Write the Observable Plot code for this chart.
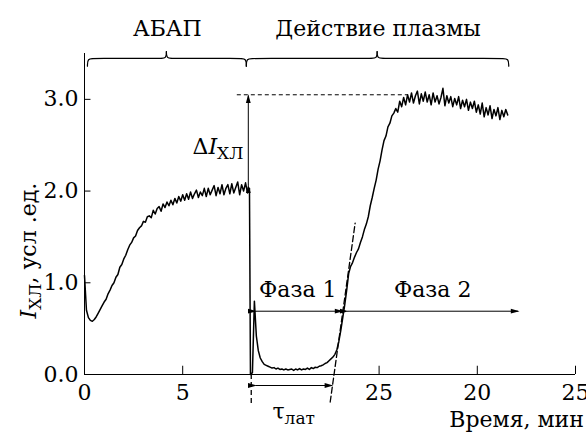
<!DOCTYPE html>
<html><head><meta charset="utf-8">
<script src="https://cdn.jsdelivr.net/npm/d3@7"></script>
<script src="https://cdn.jsdelivr.net/npm/@observablehq/plot@0.6"></script>
<style>html,body{margin:0;padding:0;background:#fff;} svg{display:block;}</style>
</head><body>
<script>
// ---- data ----
const sampleStep = 0.1; // min between samples
const abapStart = 0.0;
const abapValues = [
 1.08,0.70,0.62,0.59,0.58,0.60,0.63,0.67,0.71,0.75,
 0.79,0.82,0.88,0.92,0.97,1.00,1.06,1.09,1.17,1.20,
 1.26,1.30,1.36,1.41,1.44,1.49,1.51,1.57,1.60,1.62,
 1.67,1.66,1.72,1.73,1.71,1.79,1.75,1.81,1.83,1.78,
 1.86,1.82,1.88,1.84,1.90,1.85,1.92,1.87,1.94,1.89,
 1.96,1.90,1.97,1.91,1.99,1.92,1.97,2.01,1.93,1.99,
 1.95,2.03,1.94,2.03,1.96,2.01,2.06,1.95,2.04,1.97,
 2.07,1.96,2.03,2.07,1.97,2.08,1.98,2.04,2.10,1.96,
 2.07,2.00,2.09,1.98,2.03
];
const plasmaStart = 8.45;
const plasmaValues = [
 0.00,0.02,0.80,0.42,0.26,0.18,0.14,0.11,0.10,0.09,
 0.08,0.07,0.075,0.06,0.07,0.055,0.06,0.05,0.06,0.05,
 0.055,0.06,0.045,0.06,0.05,0.065,0.05,0.06,0.055,0.07,
 0.055,0.075,0.065,0.08,0.075,0.09,0.095,0.105,0.12,0.13,
 0.15,0.17,0.19,0.22,0.27,0.36,0.48,0.62,0.76,0.92,
 1.10,1.18,1.22,1.28,1.33,1.37,1.44,1.50,1.58,1.64,
 1.72,1.84,1.93,2.03,2.12,2.24,2.33,2.45,2.55,2.60,
 2.70,2.74,2.82,2.85,2.90,2.86,2.98,2.92,3.02,2.94,
 3.05,2.97,3.07,2.96,3.04,3.09,2.95,3.06,2.98,3.08,
 2.97,3.05,2.94,3.07,2.97,3.04,2.95,3.02,3.12,2.93,
 3.04,2.96,3.03,2.92,3.01,2.94,3.03,2.90,2.99,2.92,
 3.00,2.88,2.97,2.90,2.98,2.86,2.94,2.84,2.96,2.81,
 2.91,2.83,2.93,2.79,2.89,2.82,2.91,2.78,2.88,2.81,
 2.89,2.83
];
const xTickValues = [0, 5, 15, 20, 25];
const xTickLabels = ["0", "5", "25", "20", "25"];
const yTickValues = [0, 1, 2, 3];
const yTickLabels = ["0.0", "1.0", "2.0", "3.0"];
const xLabel = "Время, мин";
const yLabel = "IХЛ, усл .ед.";

const braceNames = ["АБАП", "Действие плазмы"];
const braceStarts = [0.15, 8.24];
const braceEnds = [8.24, 21.6];
const braceTips = [4.17, 14.9];
const braceLevel = 3.446;

const phaseNames = ["Фаза 1", "Фаза 2"];
const phaseStarts = [8.7, 13.38];
const phaseEnds = [13.12, 22.08];
const phaseLevel = 0.69;

const latName = "τлат";
const latStart = 8.7, latEnd = 12.6, latLevel = -0.12;

const deltaName = "ΔIХЛ";
const deltaTime = 8.34, deltaLow = 2.06, deltaHigh = 3.04;
const plateauLevel = 3.05, plateauFrom = 7.78, plateauTo = 16.48;
const tangentTimes = [12.51, 13.78];
const tangentValues = [-0.3, 1.65];
const onsetTime = 8.49, onsetDepth = -0.33;

// ---- build tables ----
const trace = [
  ...abapValues.map((v, i) => ({t: abapStart + i * sampleStep, v})),
  ...plasmaValues.map((v, i) => ({t: plasmaStart + i * sampleStep, v}))
];
const yEnd = braceLevel - 0.085, yTip = braceLevel + 0.075, bdx = 0.35;
const bracePts = [];
braceNames.forEach((name, k) => {
  const a = braceStarts[k], b = braceEnds[k], m = braceTips[k];
  [[a, 1], [b, -1]].forEach(([e, s], h) => {
    [[e, yEnd], [e, braceLevel], [e + s * bdx, braceLevel], [m - s * bdx, braceLevel], [m, braceLevel], [m, yTip]]
      .forEach(([x, y]) => bracePts.push({x, y, z: name + h}));
  });
});
const braceLabels = braceNames.map((name, k) => ({name, x: braceTips[k] + 0.05}));
const phases = phaseNames.map((name, k) => ({name, x1: phaseStarts[k], x2: phaseEnds[k]}));
const tangent = tangentTimes.map((t, i) => ({t, v: tangentValues[i]}));

const serif = "'DejaVu Serif', serif";
const svg = Plot.plot({
  width: 586, height: 434,
  marginLeft: 84, marginRight: 11, marginTop: 53, marginBottom: 60,
  x: {domain: [0, 25]},
  y: {domain: [0, 3.5]},
  style: {fontSize: "22px", color: "black", background: "white", overflow: "visible"},
  marks: [
    Plot.axisX({ticks: xTickValues, tickFormat: d => xTickLabels[xTickValues.indexOf(d)], tickSize: 0, tickPadding: 10, label: null}),
    Plot.axisY({ticks: yTickValues, tickFormat: d => yTickLabels[yTickValues.indexOf(d)], tickSize: 0, tickPadding: 6, label: null}),
    Plot.ruleX(xTickValues, {y1: 0, y2: 0.09, stroke: "black"}),
    Plot.ruleY(yTickValues, {x1: 0, x2: 0.33, stroke: "black"}),
    Plot.ruleY([0], {x1: 0, x2: 25, stroke: "black"}),
    Plot.ruleX([0], {y1: 0, y2: 3.5, stroke: "black"}),
    // annotations
    Plot.ruleY([plateauLevel], {x1: plateauFrom, x2: plateauTo, stroke: "black", strokeDasharray: "4,3"}),
    Plot.ruleX([onsetTime], {y1: 0, y2: onsetDepth, stroke: "black", strokeWidth: 1.3, strokeDasharray: "5,3"}),
    Plot.line(tangent, {x: "t", y: "v", stroke: "black", strokeWidth: 1.3, strokeDasharray: "6,3"}),
    Plot.line(bracePts, {x: "x", y: "y", z: "z", curve: "basis", stroke: "black", strokeWidth: 1.2}),
    Plot.text(braceLabels, {x: "x", y: 3.77, text: "name"}),
    Plot.link(phases, {x1: "x1", x2: "x2", y1: phaseLevel, y2: phaseLevel, stroke: "black", markerStart: "arrow", markerEnd: "arrow"}),
    Plot.text(phases, {x: d => (d.x1 + d.x2) / 2 - (d.name === "Фаза 2" ? 0 : 0.05), y: phaseLevel + 0.23, text: "name"}),
    Plot.link([{}], {x1: latStart, x2: latEnd, y1: latLevel, y2: latLevel, stroke: "black", markerStart: "arrow", markerEnd: "arrow"}),
    Plot.text([latName], {x: (latStart + latEnd) / 2, y: latLevel - 0.29, text: d => d}),
    Plot.link([{}], {x1: deltaTime, x2: deltaTime, y1: deltaLow, y2: deltaHigh, stroke: "black", markerStart: "arrow", markerEnd: "arrow"}),
    Plot.text([deltaName], {x: deltaTime - 0.25, y: 2.48, text: d => d, textAnchor: "end"}),
    Plot.text([xLabel], {x: 25.43, y: -0.5, text: d => d, textAnchor: "end"}),
    Plot.text([yLabel], {x: -2.85, y: 1.35, text: d => d, rotate: -90}),
    // the trace
    Plot.line(trace, {x: "t", y: "v", stroke: "black", strokeWidth: 1.5})
  ]
});

// filled arrow heads
svg.querySelectorAll("marker").forEach(m => {
  m.setAttribute("overflow", "visible");
  m.setAttribute("fill", "black");
  m.setAttribute("stroke", "none");
  const p = m.querySelector("path");
  if (p) { p.setAttribute("d", "M-11,-3.6L2,0L-11,3.6Z"); p.setAttribute("fill", "black"); p.setAttribute("stroke", "none"); }
});

// rich text: italics and subscripts
const rich = {
  [deltaName]: [["Δ"], ["I", "i"], ["ХЛ", "s"]],
  [yLabel]: [["I", "i"], ["ХЛ", "s"], [", усл .ед."]],
  [latName]: [["τ"], ["лат", "s"]]
};
d3.select(svg).selectAll("text").each(function() {
  this.setAttribute("font-family", serif);
  this.style.setProperty("font-family", serif, "important");
  const spec = rich[this.textContent];
  if (!spec) return;
  const el = d3.select(this);
  el.text(null);
  let lowered = false;
  spec.forEach(([s, f]) => {
    const ts = el.append("tspan").text(s);
    if (f === "i") ts.attr("font-style", "italic");
    if (f === "s") { ts.attr("font-size", "17px").attr("dy", "5px"); lowered = true; }
    else if (lowered) { ts.attr("dy", "-5px"); lowered = false; }
  });
});
svg.style.setProperty("font-family", serif, "important");
document.body.appendChild(svg);
</script>
</body></html>
